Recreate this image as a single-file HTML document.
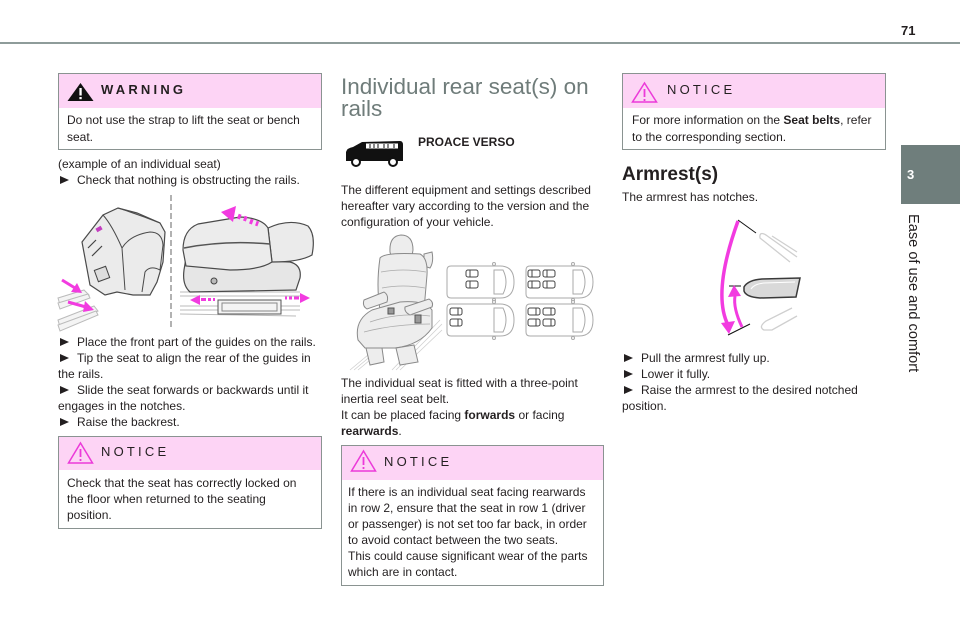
<!DOCTYPE html>
<html><head><meta charset="utf-8">
<style>
*{margin:0;padding:0;box-sizing:border-box}
html,body{width:960px;height:640px;overflow:hidden;background:#fff}
body{position:relative;font-family:"Liberation Sans",Arial,sans-serif;color:#231f20;font-size:12px;line-height:16px}
.t{position:absolute;white-space:nowrap}
.box{position:absolute;border:1px solid #8a9391}
.hd{position:absolute;left:0;top:0;right:0;height:34px;background:#fdd4f5}
.ht{position:absolute;font-size:13px;letter-spacing:3.2px;line-height:16px;white-space:nowrap}
.b{display:inline-block;width:0;height:0;border-left:9px solid #231f20;border-top:4px solid transparent;border-bottom:4px solid transparent;margin:0 8px 0 2px;vertical-align:0}
svg{position:absolute;left:0;top:0}
</style></head><body>

<div style="position:absolute;left:0;top:42px;width:960px;height:2px;background:#8e9c9a"></div>
<div class="t" style="left:901px;top:23px;font-weight:bold;font-size:13px">71</div>

<!-- boxes -->
<div class="box" style="left:58px;top:73px;width:264px;height:77px"><div class="hd"></div></div>
<div class="box" style="left:58px;top:436px;width:264px;height:93px"><div class="hd" style="height:33px"></div></div>
<div class="box" style="left:341px;top:445px;width:263px;height:141px"><div class="hd"></div></div>
<div class="box" style="left:622px;top:73px;width:264px;height:77px"><div class="hd"></div></div>

<!-- sidebar -->
<div style="position:absolute;left:901px;top:145px;width:59px;height:59px;background:#6f7e7c"></div>
<div class="t" style="left:907px;top:167px;color:#fff;font-weight:bold;font-size:13px">3</div>
<div class="t" style="left:904px;top:214px;writing-mode:vertical-rl;font-size:14.6px;line-height:18px">Ease of use and comfort</div>

<svg width="960" height="640" viewBox="0 0 960 640">
  <!-- warning triangle -->
  <polygon points="80.5,83 93.5,101 67.5,101" fill="#111"/>
  <rect x="79.4" y="88" width="2.3" height="7.5" fill="#fff"/>
  <rect x="79.4" y="97" width="2.3" height="2.2" fill="#fff"/>
  <!-- notice triangles -->
  <g fill="none" stroke="#ec3ad9" stroke-width="1.5">
    <polygon points="80.5,443 92.5,463 68.5,463"/>
    <polygon points="363.5,451 375.5,471 351.5,471"/>
    <polygon points="644.5,83 656.5,102 632.5,102"/>
  </g>
  <g fill="#ec3ad9">
    <rect x="79.6" y="449" width="1.8" height="8"/><rect x="79.6" y="459" width="1.8" height="2"/>
    <rect x="362.6" y="457" width="1.8" height="8"/><rect x="362.6" y="467" width="1.8" height="2"/>
    <rect x="643.6" y="89" width="1.8" height="8"/><rect x="643.6" y="99" width="1.8" height="2"/>
  </g>

  <!-- left illustration: tilted seat -->
  <g stroke="#bbb" stroke-width="1" fill="#f4f4f4">
    <polygon points="58,298 84,290 89,295 60,305"/>
    <polygon points="58,303 88,294 90,298 60,309"/>
    <polygon points="58,320 94,306 98,311 60,327"/>
    <polygon points="58,325 96,311 98,315 60,331"/>
  </g>
  <polygon points="82,242 103,215 118,208 137,213 160,223 165,232 163,262 157,282 150,295 133,295 117,292 105,295 90,285" fill="#ebebeb" stroke="#4a4a4a" stroke-width="1.2"/>
  <path d="M122,248 Q130,235 150,232 Q162,232 163,245 L160,270 Q150,265 145,272 L142,292 M122,248 L125,290" fill="none" stroke="#4a4a4a" stroke-width="1"/>
  <path d="M103,215 Q112,225 122,248 M118,208 Q140,215 160,223" fill="none" stroke="#4a4a4a" stroke-width="1"/>
  <rect x="96" y="268" width="12" height="12" fill="#ddd" stroke="#444" transform="rotate(-20 102 274)"/>
  <path d="M88,248 L96,240 M92,256 L102,246" stroke="#444" stroke-width="1.2"/>
  <rect x="96" y="227" width="6" height="4" fill="#c33ec0" transform="rotate(-30 99 229)"/>
  <!-- left arrows -->
  <g fill="#f23be0" stroke="#f23be0">
    <line x1="62" y1="280" x2="75" y2="288" stroke-width="3"/>
    <polygon points="82,293 71,292 77,283" stroke="none"/>
    <line x1="68" y1="302" x2="86" y2="307" stroke-width="3"/>
    <polygon points="94,310 83,312 85,301" stroke="none"/>
  </g>
  <!-- dashed divider -->
  <line x1="171" y1="195" x2="171" y2="330" stroke="#999" stroke-width="1.5" stroke-dasharray="6,3"/>
  <!-- right seat -->
  <g stroke="#bbb" stroke-width="1" fill="none">
    <line x1="180" y1="292" x2="300" y2="292"/><line x1="180" y1="296" x2="300" y2="296"/>
    <line x1="180" y1="306" x2="300" y2="306"/><line x1="180" y1="310" x2="300" y2="310"/>
    <line x1="180" y1="314" x2="296" y2="316"/>
  </g>
  <rect x="218" y="300" width="63" height="14" fill="#f4f4f4" stroke="#555"/>
  <rect x="222" y="303" width="55" height="8" fill="none" stroke="#888"/>
  <path d="M186,258 L290,262 Q302,265 300,278 L296,290 L190,292 Q182,285 184,270 Z" fill="#e6e6e6" stroke="#4a4a4a" stroke-width="1.2"/>
  <path d="M268,228 Q290,218 308,226 Q316,235 312,255 Q300,262 272,262 Z" fill="#ebebeb" stroke="#4a4a4a" stroke-width="1.2"/>
  <path d="M183,250 Q183,230 198,224 L240,217 Q262,218 268,228 L272,262 Q260,270 230,270 L186,266 Z" fill="#ececec" stroke="#4a4a4a" stroke-width="1.2"/>
  <path d="M184,248 Q225,240 270,244" fill="none" stroke="#555" stroke-width="1.5"/>
  <circle cx="214" cy="281" r="3" fill="#bbb" stroke="#444"/>
  <!-- right arrows -->
  <g fill="#f23be0">
    <polygon points="221,212 236,206 233,222"/>
    <rect x="238" y="214" width="3" height="5" transform="rotate(20 239 216)"/>
    <rect x="244" y="216" width="3" height="5" transform="rotate(20 245 218)"/>
    <rect x="250" y="219" width="3" height="5" transform="rotate(20 251 221)"/>
    <rect x="256" y="221" width="2.5" height="5" transform="rotate(20 257 223)"/>
    <polygon points="190,300 200,295 200,305"/>
    <rect x="201" y="298" width="5" height="3"/><rect x="208" y="298" width="3" height="3"/><rect x="213" y="298" width="2" height="3"/>
    <polygon points="310,298 300,293 300,303"/>
    <rect x="294" y="296.5" width="5" height="3"/><rect x="289" y="296.5" width="3" height="3"/><rect x="285" y="296.5" width="2" height="3"/>
  </g>

  <!-- van icon -->
  <path d="M346,161 L346,152 Q347,148 353,147 L362,142 L400,141 Q403,141 403,145 L403,161 Z" fill="#111"/>
  <rect x="366" y="143.5" width="32" height="5" fill="#fff"/>
  <g stroke="#111" stroke-width="1"><line x1="370" y1="144" x2="370" y2="148"/><line x1="374" y1="144" x2="374" y2="148"/><line x1="378" y1="144" x2="378" y2="148"/><line x1="384" y1="144" x2="384" y2="148"/><line x1="388" y1="144" x2="388" y2="148"/><line x1="394" y1="144" x2="394" y2="148"/></g>
  <circle cx="356" cy="162" r="4" fill="#fff" stroke="#111" stroke-width="2"/>
  <circle cx="393" cy="162" r="4" fill="#fff" stroke="#111" stroke-width="2"/>

  <!-- middle seat -->
  <g stroke="#cfcfcf" stroke-width="0.8">
    <line x1="350" y1="370" x2="368" y2="355"/><line x1="354" y1="370" x2="372" y2="355"/><line x1="358" y1="370" x2="376" y2="355"/>
    <line x1="392" y1="370" x2="440" y2="320"/><line x1="396" y1="370" x2="442" y2="324"/><line x1="400" y1="370" x2="442" y2="330"/>
  </g>
  <g fill="#ededed" stroke="#8a8a8a" stroke-width="1">
    <path d="M390,252 Q389,236 401,235 Q413,235 413,250 L412,256 L391,256 Z"/>
    <path d="M424,254 L432,252 Q434,262 430,268 L424,266 Z"/>
    <path d="M380,258 Q385,252 420,254 Q428,258 427,275 L424,310 Q410,318 395,318 L380,310 Q376,285 380,258 Z"/>
    <path d="M358,340 Q354,320 372,310 L400,302 Q425,300 432,310 L432,328 Q420,345 395,348 L365,348 Z"/>
    <path d="M364,300 L384,292 Q389,295 387,302 L367,309 Q362,306 364,300 Z"/>
    <path d="M405,307 L429,299 Q434,302 432,307 L410,315 Q404,312 405,307 Z"/>
    <path d="M366,348 L382,348 L384,362 L370,365 Z"/>
    <path d="M396,348 L414,345 L418,362 L400,365 Z"/>
  </g>
  <g stroke="#aaa" fill="none" stroke-width="0.8">
    <path d="M381,272 Q403,268 426,272 M382,288 Q403,284 425,288 M370,322 Q398,312 430,316 M364,332 Q395,324 430,324"/>
  </g>
  <rect x="388" y="308" width="6" height="6" fill="#999" stroke="#555"/>
  <rect x="415" y="315" width="6" height="8" fill="#999" stroke="#555"/>

  <!-- cars -->
  <g fill="#fff" stroke="#aaa" stroke-width="1">
    <path d="M451,266 L500,266 Q514,266 514,282 Q514,298 500,298 L451,298 Q447,298 447,294 L447,270 Q447,266 451,266 Z"/>
    <path d="M494,270 L503,270 Q509,282 503,294 L494,294 Z"/>
    <path d="M530,266 L579,266 Q593,266 593,282 Q593,298 579,298 L530,298 Q526,298 526,294 L526,270 Q526,266 530,266 Z"/>
    <path d="M573,270 L582,270 Q588,282 582,294 L573,294 Z"/>
    <path d="M451,304 L500,304 Q514,304 514,320 Q514,336 500,336 L451,336 Q447,336 447,332 L447,308 Q447,304 451,304 Z"/>
    <path d="M494,308 L503,308 Q509,320 503,332 L494,332 Z"/>
    <path d="M530,304 L579,304 Q593,304 593,320 Q593,336 579,336 L530,336 Q526,336 526,332 L526,308 Q526,304 530,304 Z"/>
    <path d="M573,308 L582,308 Q588,320 582,332 L573,332 Z"/>
    <circle cx="494" cy="264" r="1.5"/><circle cx="494" cy="300" r="1.5"/>
    <circle cx="573" cy="264" r="1.5"/><circle cx="573" cy="300" r="1.5"/>
    <circle cx="494" cy="302" r="1.5"/><circle cx="494" cy="338" r="1.5"/>
    <circle cx="573" cy="302" r="1.5"/><circle cx="573" cy="338" r="1.5"/>
  </g>
  <g fill="#fff" stroke="#444" stroke-width="1">
    <rect x="466" y="270" width="12" height="7" rx="2"/><rect x="466" y="281" width="12" height="7" rx="2"/>
    <rect x="528" y="270" width="12" height="7" rx="2"/><rect x="528" y="281" width="12" height="7" rx="2"/>
    <rect x="543" y="270" width="12" height="7" rx="2"/><rect x="543" y="281" width="12" height="7" rx="2"/>
    <rect x="450" y="308" width="12" height="7" rx="2"/><rect x="450" y="319" width="12" height="7" rx="2"/>
    <rect x="528" y="308" width="12" height="7" rx="2"/><rect x="528" y="319" width="12" height="7" rx="2"/>
    <rect x="543" y="308" width="12" height="7" rx="2"/><rect x="543" y="319" width="12" height="7" rx="2"/>
  </g>
  <g stroke="#444" stroke-width="1">
    <line x1="470" y1="270" x2="470" y2="277"/><line x1="470" y1="281" x2="470" y2="288"/>
    <line x1="532" y1="270" x2="532" y2="277"/><line x1="532" y1="281" x2="532" y2="288"/>
    <line x1="547" y1="270" x2="547" y2="277"/><line x1="547" y1="281" x2="547" y2="288"/>
    <line x1="458" y1="308" x2="458" y2="315"/><line x1="458" y1="319" x2="458" y2="326"/>
    <line x1="536" y1="308" x2="536" y2="315"/><line x1="536" y1="319" x2="536" y2="326"/>
    <line x1="551" y1="308" x2="551" y2="315"/><line x1="551" y1="319" x2="551" y2="326"/>
  </g>

  <!-- armrest -->
  <g fill="none" stroke="#cfcfcf" stroke-width="1.3">
    <path d="M797,257 L766,235 Q759,231 760,238 L790,262"/>
    <path d="M797,252 L772,236"/>
    <path d="M792,308 L766,321 Q758,327 764,330 L772,330 L797,316"/>
  </g>
  <path d="M744,287 Q748,280 762,279 L800,278 L796,297 L760,298 Q746,297 744,291 Z" fill="#d9d9d9" stroke="#3a3a3a" stroke-width="1.5"/>
  <path d="M751,289 Q754,284 764,283 L795,282" fill="none" stroke="#fff" stroke-width="1"/>
  <g stroke="#111" stroke-width="1">
    <line x1="738" y1="220" x2="756" y2="233"/>
    <line x1="728" y1="335" x2="750" y2="324"/>
    <line x1="729" y1="286" x2="741" y2="286"/>
  </g>
  <path d="M738,221 Q712,293 728,325" fill="none" stroke="#f23be0" stroke-width="3.5"/>
  <polygon points="721,323 735,321 729,334" fill="#f23be0"/>
  <path d="M742,327 Q733,308 735,296" fill="none" stroke="#f23be0" stroke-width="3"/>
  <polygon points="728,297 741,296 734,285" fill="#f23be0"/>
</svg>

<!-- left column text -->
<div class="ht" style="left:101px;top:82px;font-weight:bold">WARNING</div>
<div class="t" style="left:67px;top:112px;line-height:17px">Do not use the strap to lift the seat or bench<br>seat.</div>
<div class="t" style="left:58px;top:156px">(example of an individual seat)<br><span class="b"></span>Check that nothing is obstructing the rails.</div>
<div class="t" style="left:58px;top:334px"><span class="b"></span>Place the front part of the guides on the rails.<br><span class="b"></span>Tip the seat to align the rear of the guides in<br>the rails.<br><span class="b"></span>Slide the seat forwards or backwards until it<br>engages in the notches.<br><span class="b"></span>Raise the backrest.</div>
<div class="ht" style="left:101px;top:444px">NOTICE</div>
<div class="t" style="left:67px;top:475px">Check that the seat has correctly locked on<br>the floor when returned to the seating<br>position.</div>

<!-- middle column -->
<div class="t" style="left:341px;top:76px;font-size:22.5px;line-height:22px;color:#6f7c7a">Individual rear seat(s) on<br>rails</div>
<div class="t" style="left:418px;top:134px;font-weight:bold">PROACE VERSO</div>
<div class="t" style="left:341px;top:182px">The different equipment and settings described<br>hereafter vary according to the version and the<br>configuration of your vehicle.</div>
<div class="t" style="left:341px;top:375px">The individual seat is fitted with a three-point<br>inertia reel seat belt.<br>It can be placed facing <b>forwards</b> or facing<br><b>rearwards</b>.</div>
<div class="ht" style="left:384px;top:454px">NOTICE</div>
<div class="t" style="left:348px;top:484px">If there is an individual seat facing rearwards<br>in row 2, ensure that the seat in row 1 (driver<br>or passenger) is not set too far back, in order<br>to avoid contact between the two seats.<br>This could cause significant wear of the parts<br>which are in contact.</div>

<!-- right column -->
<div class="ht" style="left:667px;top:82px">NOTICE</div>
<div class="t" style="left:632px;top:112px;line-height:17px">For more information on the <b>Seat belts</b>, refer<br>to the corresponding section.</div>
<div class="t" style="left:622px;top:164px;font-size:19px;line-height:22px;font-weight:bold">Armrest(s)</div>
<div class="t" style="left:622px;top:189px">The armrest has notches.</div>
<div class="t" style="left:622px;top:350px"><span class="b"></span>Pull the armrest fully up.<br><span class="b"></span>Lower it fully.<br><span class="b"></span>Raise the armrest to the desired notched<br>position.</div>

</body></html>
